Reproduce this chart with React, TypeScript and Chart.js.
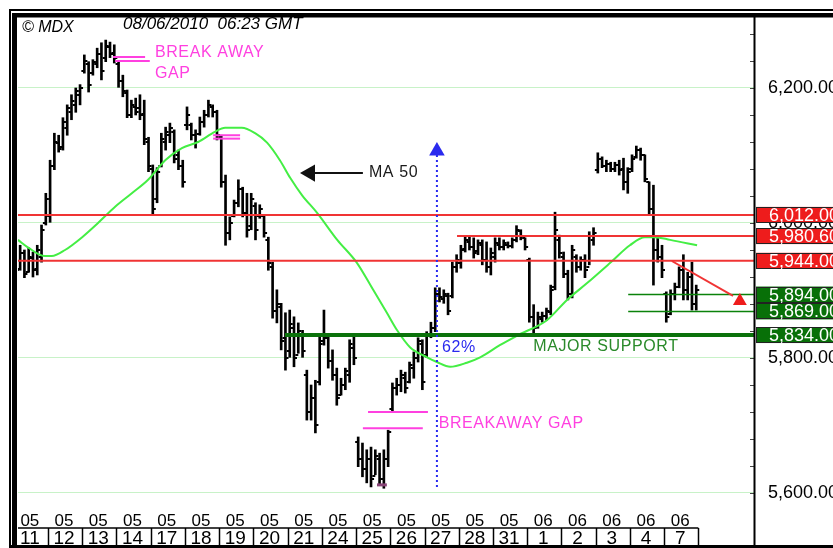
import React, { useEffect, useRef } from 'react';
import { Chart, registerables } from 'chart.js';

Chart.register(...registerables);

// ---------- data ----------
const BARS_PER_DAY = 8;
const monthLabels = ['05', '05', '05', '05', '05', '05', '05', '05', '05', '05', '05', '05', '05', '05', '05', '06', '06', '06', '06', '06'];
const dayLabels = ['11', '12', '13', '14', '17', '18', '19', '20', '21', '24', '25', '26', '27', '28', '31', '1', '2', '3', '4', '7'];

const highs = [
  5960, 5967, 5960, 5963, 5957, 5967, 5997, 6044,
  6093, 6133, 6130, 6156, 6175, 6190, 6200, 6205,
  6249, 6239, 6242, 6259, 6267, 6271, 6268, 6264,
  6239, 6219, 6197, 6182, 6185, 6190, 6182, 6127,
  6086, 6082, 6133, 6142, 6148, 6138, 6108, 6093,
  6172, 6148, 6138, 6157, 6167, 6182, 6175, 6167,
  6130, 6071, 6009, 6034, 6064, 6053, 6044, 6044,
  6030, 6027, 6012, 5979, 5942, 5901, 5881, 5867,
  5871, 5861, 5852, 5841, 5782, 5760, 5767, 5831,
  5871, 5834, 5812, 5785, 5770, 5785, 5827, 5834,
  5683, 5674, 5664, 5668, 5664, 5659, 5664, 5693,
  5763, 5770, 5782, 5779, 5794, 5809, 5830, 5827,
  5839, 5853, 5904, 5904, 5901, 5896, 5942, 5953,
  5967, 5981, 5981, 5978, 5975, 5975, 5972, 5963,
  5978, 5978, 5975, 5972, 5978, 5996, 5990, 5978,
  5948, 5879, 5868, 5868, 5874, 5908, 6016, 5982,
  5957, 5930, 5967, 5953, 5950, 5953, 5987, 5993,
  6104, 6098, 6093, 6090, 6090, 6093, 6096, 6082,
  6101, 6114, 6111, 6101, 6061, 6056, 5978, 5967,
  5898, 5901, 5911, 5935, 5953, 5927, 5942, 5908,
];
const lows = [
  5923, 5930, 5919, 5927, 5920, 5923, 5942, 5997,
  6001, 6079, 6105, 6108, 6130, 6153, 6164, 6175,
  6222, 6194, 6219, 6230, 6212, 6239, 6245, 6237,
  6201, 6187, 6156, 6156, 6160, 6153, 6116, 6076,
  6012, 6030, 6083, 6108, 6119, 6089, 6079, 6053,
  6138, 6123, 6111, 6130, 6142, 6157, 6157, 6123,
  6053, 5967, 5975, 6009, 6024, 6009, 5979, 5990,
  5975, 6007, 5979, 5930, 5859, 5852, 5812, 5782,
  5801, 5787, 5807, 5801, 5708, 5708, 5689, 5760,
  5819, 5785, 5767, 5730, 5745, 5753, 5764, 5790,
  5639, 5624, 5615, 5609, 5627, 5612, 5607, 5639,
  5720, 5745, 5750, 5748, 5763, 5770, 5794, 5753,
  5801, 5830, 5839, 5883, 5881, 5864, 5889, 5927,
  5933, 5957, 5960, 5948, 5953, 5938, 5927, 5923,
  5942, 5960, 5960, 5963, 5963, 5972, 5975, 5960,
  5853, 5837, 5844, 5853, 5856, 5864, 5901, 5948,
  5919, 5886, 5889, 5927, 5930, 5919, 5938, 5967,
  6074, 6082, 6076, 6076, 6076, 6071, 6049, 6044,
  6076, 6096, 6093, 6061, 6012, 5908, 5942, 5919,
  5853, 5864, 5886, 5904, 5886, 5886, 5871, 5871,
];
const opens = [
  5940, 5932, 5955, 5928, 5948, 5932, 5950, 6000,
  6010, 6085, 6118, 6112, 6140, 6165, 6175, 6190,
  6225, 6235, 6222, 6235, 6250, 6245, 6260, 6252,
  6235, 6210, 6192, 6160, 6172, 6170, 6162, 6120,
  6080, 6035, 6085, 6120, 6130, 6135, 6100, 6085,
  6145, 6145, 6130, 6132, 6150, 6160, 6172, 6165,
  6128, 6060, 5985, 6010, 6030, 6050, 6015, 5995,
  6025, 6010, 6010, 5975, 5935, 5870, 5875, 5830,
  5810, 5845, 5805, 5835, 5775, 5720, 5740, 5765,
  5825, 5830, 5795, 5775, 5745, 5760, 5775, 5815,
  5675, 5650, 5635, 5650, 5625, 5650, 5620, 5650,
  5725, 5755, 5760, 5770, 5765, 5785, 5800, 5820,
  5805, 5835, 5845, 5895, 5888, 5892, 5892, 5935,
  5940, 5962, 5972, 5965, 5958, 5968, 5945, 5935,
  5950, 5968, 5965, 5968, 5966, 5975, 5988, 5978,
  5945, 5860, 5846, 5858, 5862, 5868, 5905, 5975,
  5950, 5925, 5895, 5950, 5935, 5945, 5935, 5975,
  6078, 6095, 6085, 6088, 6080, 6086, 6080, 6060,
  6080, 6098, 6108, 6100, 6060, 6020, 5960, 5950,
  5895, 5865, 5895, 5905, 5930, 5900, 5920, 5880,
];
const closes = [
  5930, 5955, 5925, 5950, 5930, 5960, 5990, 6035,
  6085, 6120, 6110, 6150, 6170, 6180, 6195, 6200,
  6240, 6205, 6238, 6250, 6225, 6262, 6250, 6245,
  6210, 6195, 6160, 6175, 6165, 6160, 6125, 6085,
  6020, 6075, 6125, 6135, 6140, 6095, 6085, 6060,
  6160, 6130, 6120, 6150, 6160, 6175, 6165, 6130,
  6060, 5985, 6000, 6030, 6050, 6015, 5990, 6035,
  5990, 6020, 5985, 5940, 5870, 5880, 5825, 5800,
  5850, 5800, 5840, 5810, 5720, 5740, 5700, 5820,
  5830, 5795, 5775, 5740, 5760, 5780, 5820, 5800,
  5650, 5635, 5650, 5620, 5655, 5620, 5650, 5690,
  5755, 5760, 5775, 5755, 5790, 5800, 5825, 5765,
  5835, 5845, 5895, 5890, 5895, 5870, 5935, 5945,
  5960, 5975, 5965, 5955, 5970, 5945, 5935, 5955,
  5970, 5965, 5970, 5966, 5975, 5990, 5980, 5965,
  5860, 5845, 5860, 5862, 5870, 5900, 5990, 5955,
  5925, 5895, 5960, 5935, 5945, 5930, 5980, 5985,
  6095, 6085, 6088, 6080, 6086, 6078, 6060, 6075,
  6095, 6108, 6100, 6065, 6020, 5960, 5950, 5930,
  5860, 5895, 5905, 5930, 5900, 5920, 5880, 5900,
];

// MA 50 line (bar position, value)
const maX = [1.0, 3.3, 7.3, 8.9, 12.0, 16.0, 19.7, 23.7, 27.6, 31.4, 35.4, 39.3, 43.1, 47.0, 49.4, 53.3, 56.4, 59.2, 62.2, 64.6, 67.4, 70.9, 75.6, 80.2, 84.0, 87.2, 89.6, 92.6, 96.6, 98.9, 102.0, 105.9, 109.0, 113.6, 117.9, 124.6, 129.3, 134.0, 139.4, 144.0, 147.5, 149.9, 153.4, 159.7];
const maY = [5975, 5964, 5951, 5951, 5960, 5979, 6000, 6024, 6044, 6064, 6093, 6111, 6120, 6135, 6141, 6141, 6133, 6119, 6093, 6067, 6041, 6015, 5975, 5941, 5901, 5867, 5841, 5816, 5801, 5794, 5787, 5793, 5801, 5819, 5834, 5856, 5886, 5911, 5941, 5967, 5979, 5979, 5975, 5967];

// axis ticks
const yAxisTicks = [5600, 5800, 6000, 6200];
const yAxisTickLabels = ['5,600.00', '5,800.00', '6,000.00', '6,200.00'];
const minorTicks = [5600, 5640, 5680, 5720, 5760, 5800, 5840, 5880, 5920, 5960, 6000, 6040, 6080, 6120, 6160, 6200, 6240, 6280];

// support / resistance levels
const levelValues = [6012, 5980.6, 5944, 5894, 5869, 5834];
const levelLabels = ['6,012.00', '5,980.60', '5,944.00', '5,894.00', '5,869.00', '5,834.00'];
const levelKinds = ['res', 'res', 'res', 'sup', 'sup', 'sup'];

// ---------- layout / style ----------
const X_MIN = 1;
const X_MAX = 173;
const Y_MIN = 5574.8;
const Y_MAX = 6303.7;
const FONT = 'Arial, "Liberation Sans", Helvetica, sans-serif';
const RED = '#f03434';
const PINK = '#ff40e0';
const BLUE = '#2a2aee';
const MA_GREEN = '#44ee44';
const DARK_GREEN = '#0b720b';
const TEXT_GREEN = '#2a8a2a';

const levelStyle = [
  { from: 1, color: RED, width: 2 },
  { from: 103.6, color: RED, width: 2 },
  { from: 1, color: RED, width: 2 },
  { from: 143.6, color: '#0a820a', width: 1.5 },
  { from: 143.6, color: '#0a820a', width: 1.5 },
  { from: 63.4, color: DARK_GREEN, width: 4 },
];

const gapLines = [
  { x1: 23.2, x2: 30.7, y: 6246, color: PINK, w: 2 },
  { x1: 23.7, x2: 31.8, y: 6240, color: PINK, w: 2 },
  { x1: 46.6, x2: 52.9, y: 6130, color: PINK, w: 2 },
  { x1: 46.6, x2: 52.9, y: 6125, color: PINK, w: 2 },
  { x1: 82.8, x2: 96.8, y: 5720, color: PINK, w: 2 },
  { x1: 81.6, x2: 95.6, y: 5696, color: PINK, w: 2 },
  { x1: 84.9, x2: 87.2, y: 5612, color: '#884477', w: 3 },
];

const annotationTexts = [
  { text: 'BREAK AWAY', x: 33.0, y: 6252.6, color: PINK },
  { text: 'GAP', x: 33.0, y: 6220.8, color: PINK },
  { text: 'MA 50', x: 83.0, y: 6074.8, color: '#1a1a1a' },
  { text: '62%', x: 100.1, y: 5814.8, color: BLUE },
  { text: 'MAJOR SUPPORT', x: 121.4, y: 5816.3, color: TEXT_GREEN },
  { text: 'BREAKAWAY GAP', x: 99.3, y: 5702.2, color: PINK },
];

function makeTick(side: 'left' | 'right') {
  const c = document.createElement('canvas');
  c.width = 8;
  c.height = 2;
  const g = c.getContext('2d')!;
  g.fillStyle = '#000';
  if (side === 'left') g.fillRect(1, 0, 3, 2);
  else g.fillRect(4, 0, 3, 2);
  return c;
}

const decorPlugin = {
  id: 'decor',
  beforeDraw(chart: any) {
    const { ctx, width, height } = chart;
    ctx.save();
    ctx.fillStyle = '#ffffff';
    ctx.fillRect(0, 0, width, height);
    ctx.restore();
  },
  afterDraw(chart: any) {
    const ctx = chart.ctx as CanvasRenderingContext2D;
    const xs = chart.scales.x;
    const ys = chart.scales.y;
    const area = chart.chartArea;
    ctx.save();

    // annotation texts
    ctx.textBaseline = 'middle';
    ctx.textAlign = 'left';
    ctx.font = `16px ${FONT}`;
    try { (ctx as any).letterSpacing = '0.6px'; } catch (e) {}
    annotationTexts.forEach((a) => {
      ctx.fillStyle = a.color;
      ctx.fillText(a.text, xs.getPixelForValue(a.x), ys.getPixelForValue(a.y));
    });
    try { (ctx as any).letterSpacing = '0px'; } catch (e) {}

    // minor tick marks on the price axis
    ctx.strokeStyle = '#444';
    ctx.lineWidth = 1;
    minorTicks.forEach((v) => {
      const y = Math.round(ys.getPixelForValue(v)) + 0.5;
      ctx.beginPath();
      ctx.moveTo(area.right - 4, y);
      ctx.lineTo(area.right, y);
      ctx.stroke();
    });

    // level boxes
    ctx.font = `18px ${FONT}`;
    levelValues.forEach((v, i) => {
      const y = ys.getPixelForValue(v);
      ctx.fillStyle = levelKinds[i] === 'res' ? '#ee1c1c' : '#087008';
      ctx.fillRect(area.right + 2, y - 8, 90, 16);
      ctx.strokeStyle = '#222';
      ctx.lineWidth = 1;
      ctx.strokeRect(area.right + 2.5, Math.round(y - 8) + 0.5, 90, 15);
      ctx.fillStyle = '#ffffff';
      ctx.fillText(levelLabels[i], area.right + 15, y + 1);
    });

    // header
    ctx.fillStyle = '#000';
    ctx.font = `italic 16px ${FONT}`;
    ctx.fillText('© MDX', 22, 27.5);
    ctx.font = `italic 17px ${FONT}`;
    ctx.fillText('08/06/2010  06:23 GMT', 123, 24);

    // date row
    const nDays = dayLabels.length;
    const rowLine = 528;
    const bottom = 548;
    const xEnd = xs.getPixelForValue(nDays * BARS_PER_DAY);
    ctx.strokeStyle = '#000';
    ctx.lineWidth = 1.5;
    ctx.beginPath();
    ctx.moveTo(area.left, rowLine);
    ctx.lineTo(xEnd, rowLine);
    ctx.stroke();
    for (let k = 1; k <= nDays; k++) {
      const x = Math.round(xs.getPixelForValue(k * BARS_PER_DAY)) + 0.5;
      ctx.beginPath();
      ctx.moveTo(x, rowLine);
      ctx.lineTo(x, bottom);
      ctx.stroke();
    }
    ctx.textAlign = 'center';
    ctx.fillStyle = '#000';
    for (let k = 0; k < nDays; k++) {
      const cx = xs.getPixelForValue(k * BARS_PER_DAY + BARS_PER_DAY / 2) - 1;
      ctx.font = `17px ${FONT}`;
      ctx.fillText(monthLabels[k], cx, 521);
      ctx.font = `19px ${FONT}`;
      ctx.fillText(dayLabels[k], cx, 538.5);
    }

    // frame
    ctx.fillStyle = '#000';
    ctx.fillRect(9, 9, 824, 2);
    ctx.fillRect(12, 13, 821, 4.5);
    ctx.fillRect(9, 9, 2, 539);
    ctx.fillRect(12, 13, 5, 535);
    ctx.fillRect(9, 545, 824, 3);
    ctx.fillRect(area.right - 0.5, 17, 2, 531);
    ctx.restore();
  },
};

export default function App() {
  const ref = useRef<HTMLCanvasElement>(null);

  useEffect(() => {
    const canvas = ref.current!;
    const openImg = makeTick('left');
    const closeImg = makeTick('right');
    const barPos = (i: number) => i + 0.5;

    const segment = (x1: number, x2: number, y1: number, y2: number, color: string, width: number, dash: number[] = []) => ({
      type: 'line',
      data: [{ x: x1, y: y1 }, { x: x2, y: y2 }],
      borderColor: color,
      borderWidth: width,
      borderDash: dash,
      pointRadius: 0,
      fill: false,
      tension: 0,
    });

    const marker = (x: number, y: number, color: string, r: number, rot: number) => ({
      type: 'scatter',
      data: [{ x, y }],
      pointStyle: 'triangle',
      pointRadius: r,
      rotation: rot,
      backgroundColor: color,
      borderColor: color,
      borderWidth: 0,
    });

    const datasets: any[] = [
      // arrows
      marker(169.7, 5884.5, '#ee1c1c', 8, 0),
      segment(153.8, 168.1, 5943.7, 5891.9, RED, 2),
      marker(98.9, 6106.7, BLUE, 9, 0),
      segment(98.9, 98.9, 5609, 6104, BLUE, 2, [2, 3]),
      marker(69.24, 6074, '#111', 10, -90),
      segment(69.24, 81.6, 6074, 6074, '#111', 2),
      // gap markers
      ...gapLines.map((g) => segment(g.x1, g.x2, g.y, g.y, g.color, g.w)),
      // levels
      ...levelValues.map((v, i) => segment(levelStyle[i].from, X_MAX, v, v, levelStyle[i].color, levelStyle[i].width)),
      // moving average
      {
        type: 'line',
        data: maX.map((x, i) => ({ x, y: maY[i] })),
        borderColor: MA_GREEN,
        borderWidth: 2,
        pointRadius: 0,
        fill: false,
        cubicInterpolationMode: 'monotone',
      },
      // open / close ticks
      {
        type: 'scatter',
        data: opens.map((o, i) => ({ x: barPos(i), y: o })),
        pointStyle: openImg,
        pointRadius: 2,
      },
      {
        type: 'scatter',
        data: closes.map((c, i) => ({ x: barPos(i), y: c })),
        pointStyle: closeImg,
        pointRadius: 2,
      },
      // high-low bars
      {
        type: 'bar',
        data: highs.map((h, i) => ({ x: barPos(i), y: [lows[i], h] })),
        backgroundColor: '#000',
        borderWidth: 0,
        barThickness: 2,
        grouped: false,
      },
    ];

    const chart = new Chart(canvas, {
      type: 'line',
      data: { datasets },
      plugins: [decorPlugin],
      options: {
        responsive: false,
        maintainAspectRatio: false,
        devicePixelRatio: 1,
        animation: false,
        events: [],
        layout: { padding: { left: 18, top: 18, right: 0, bottom: 38 } },
        plugins: { legend: { display: false }, tooltip: { enabled: false }, title: { display: false } },
        scales: {
          x: { type: 'linear', min: X_MIN, max: X_MAX, display: false, offset: false },
          y: {
            type: 'linear',
            position: 'right',
            min: Y_MIN,
            max: Y_MAX,
            afterBuildTicks: (s: any) => {
              s.ticks = yAxisTicks.map((v) => ({ value: v }));
            },
            afterFit: (s: any) => {
              s.width = 79;
            },
            grid: { color: '#c8f2c8', lineWidth: 1, drawTicks: true, tickLength: 12, tickColor: 'rgba(0,0,0,0)' },
            border: { display: false },
            ticks: {
              color: '#000',
              font: { family: FONT, size: 18 },
              padding: 2,
              autoSkip: false,
              callback: (_v: any, idx: number) => yAxisTickLabels[idx],
            },
          },
        },
      } as any,
    } as any);

    return () => chart.destroy();
  }, []);

  return (
    <div style={{ position: 'fixed', left: 0, top: 0, width: 833, height: 548, background: '#fff' }}>
      <canvas ref={ref} width={833} height={548} style={{ display: 'block', width: 833, height: 548 }} />
    </div>
  );
}
